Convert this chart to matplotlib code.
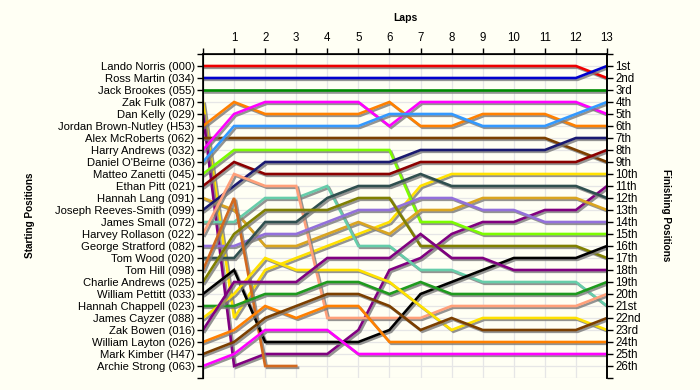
import matplotlib
matplotlib.use('Agg')
import matplotlib.pyplot as plt
import matplotlib.patheffects as pe

plt.rcParams['font.family'] = ['Liberation Sans', 'DejaVu Sans']

laps = list(range(0, 14))

drivers = ['Lando Norris (000)', 'Ross Martin (034)', 'Jack Brookes (055)', 'Zak Fulk (087)',
           'Dan Kelly (029)', 'Jordan Brown-Nutley (H53)', 'Alex McRoberts (062)',
           'Harry Andrews (032)', "Daniel O'Beirne (036)", 'Matteo Zanetti (045)',
           'Ethan Pitt (021)', 'Hannah Lang (091)', 'Joseph Reeves-Smith (099)',
           'James Small (072)', 'Harvey Rollason (022)', 'George Stratford (082)',
           'Tom Wood (020)', 'Tom Hill (098)', 'Charlie Andrews (025)',
           'William Pettitt (033)', 'Hannah Chappell (023)', 'James Cayzer (088)',
           'Zak Bowen (016)', 'William Layton (026)', 'Mark Kimber (H47)', 'Archie Strong (063)']

colours = ['#EE0000', '#0000CD', '#008B00', '#FFE100', '#800080', '#FF8000', '#7B3F00',
           '#FF00FF', '#3399FF', '#7CFC00', '#8B0000', '#DAA520', '#191970', '#66CDAA',
           '#FFA07A', '#9370DB', '#2F4F4F', '#D2691E', '#808000', '#000000', '#1E9A1E',
           '#FFE100', '#800080', '#FF8000', '#7B3F00', '#FF00FF']

# position of each driver after every lap (lap 0 = grid)
positions = [
    [1, 1, 1, 1, 1, 1, 1, 1, 1, 1, 1, 1, 1, 2],
    [2, 2, 2, 2, 2, 2, 2, 2, 2, 2, 2, 2, 2, 1],
    [3, 3, 3, 3, 3, 3, 3, 3, 3, 3, 3, 3, 3, 3],
    [4, 22, 18, 17, 16, 15, 14, 11, 10, 10, 10, 10, 10, 10],
    [5, 26, 25, 25, 25, 23, 18, 17, 15, 14, 14, 13, 13, 11],
    [6, 4, 5, 5, 5, 5, 4, 6, 6, 5, 5, 5, 6, 6],
    [7, 7, 7, 7, 7, 7, 7, 7, 7, 7, 7, 7, 8, 9],
    [8, 5, 4, 4, 4, 4, 6, 4, 4, 4, 4, 4, 4, 5],
    [9, 6, 6, 6, 6, 6, 5, 5, 5, 6, 6, 6, 5, 4],
    [10, 8, 8, 8, 8, 8, 8, 14, 14, 15, 15, 15, 15, 15],
    [11, 9, 10, 10, 10, 10, 10, 9, 9, 9, 9, 9, 9, 8],
    [12, 13, 16, 16, 15, 14, 15, 13, 13, 12, 12, 12, 12, 13],
    [13, 11, 9, 9, 9, 9, 9, 8, 8, 8, 8, 8, 7, 7],
    [14, 14, 12, 12, 11, 16, 16, 18, 18, 19, 19, 19, 19, 21],
    [15, 10, 11, 11, 22, 22, 22, 22, 21, 21, 21, 21, 21, 20],
    [16, 16, 15, 15, 14, 13, 13, 12, 12, 13, 13, 14, 14, 14],
    [17, 17, 14, 14, 12, 11, 11, 10, 11, 11, 11, 11, 11, 12],
    [18, 12, 26, 26],
    [19, 15, 13, 13, 13, 12, 12, 16, 16, 16, 16, 16, 16, 17],
    [20, 18, 24, 24, 24, 24, 23, 20, 19, 18, 17, 17, 17, 16],
    [21, 21, 20, 20, 19, 19, 20, 19, 20, 20, 20, 20, 20, 19],
    [22, 20, 17, 18, 18, 18, 19, 21, 23, 22, 22, 22, 22, 23],
    [23, 19, 19, 19, 17, 17, 17, 15, 17, 17, 18, 18, 18, 18],
    [24, 23, 21, 22, 21, 21, 24, 24, 24, 24, 24, 24, 24, 24],
    [25, 24, 22, 21, 20, 20, 21, 23, 22, 23, 23, 23, 23, 22],
    [26, 25, 23, 23, 23, 25, 25, 25, 25, 25, 25, 25, 25, 25],
]

finish_labels = ['1st', '2nd', '3rd'] + ['%dth' % i for i in range(4, 21)] + \
                ['21st', '22nd', '23rd', '24th', '25th', '26th']

bg = '#FFFFF4'
fig = plt.figure(figsize=(7, 3.9), dpi=100, facecolor=bg)
ax = fig.add_axes([203 / 700, 1 - 378 / 390, 404 / 700, 324 / 390])
ax.set_facecolor(bg)

for p, c in zip(positions, colours):
    ax.plot(laps[:len(p)], p, color=c, lw=1.9, solid_joinstyle='miter',
            path_effects=[pe.SimpleLineShadow(offset=(1.3, -1.3), shadow_color='#7A7A7A', alpha=0.8),
                          pe.Normal()])

ax.set_xlim(0, 13)
ax.set_ylim(27, 0)
ax.set_xticks(laps)
ax.set_xticklabels([''] + [str(i) for i in laps[1:]], fontsize=8.3)
ax.xaxis.tick_top()
ax.set_yticks(range(0, 28))
ax.set_yticklabels([''] + drivers + [''], fontsize=8.1)
ax.tick_params(length=4, width=1, pad=2)
ax.tick_params(axis='x', pad=3)
ax.grid(True, color='#E6E6E6', lw=0.9, zorder=0)
ax.set_axisbelow(True)
ax.spines['bottom'].set_visible(False)
for s in ['left', 'top', 'right']:
    ax.spines[s].set_linewidth(1.2)

ax2 = ax.twinx()
ax2.set_ylim(27, 0)
ax2.set_yticks(range(0, 28))
ax2.set_yticklabels([''] + finish_labels + [''], fontsize=8.3)
ax2.tick_params(length=4, width=1, pad=2)
ax2.spines['bottom'].set_visible(False)
ax2.spines['right'].set_linewidth(1.2)

fig.text(405 / 700, 1 - 18 / 390, 'Laps', ha='center', va='center', fontsize=7.5, fontweight='bold')
fig.text(30 / 700, 1 - 215 / 390, 'Starting Positions', ha='center', va='center',
         rotation=90, fontsize=7.2, fontweight='bold')
fig.text(666 / 700, 1 - 215 / 390, 'Finishing Positions', ha='center', va='center',
         rotation=270, fontsize=7.2, fontweight='bold')

fig.savefig('out.png', dpi=100, facecolor=bg)
